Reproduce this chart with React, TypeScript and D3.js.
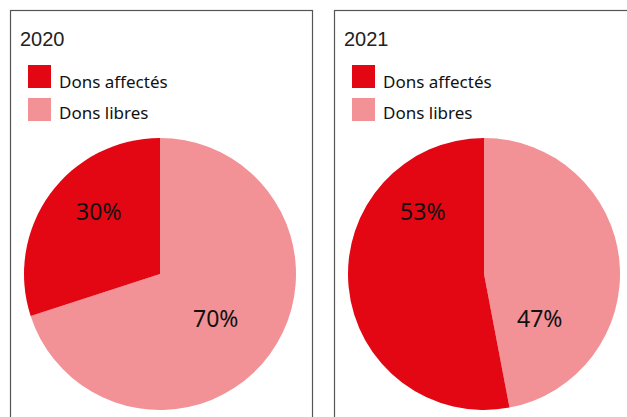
import React from "react";
import * as d3 from "d3";

const years = ["2020", "2021"];
const categories = ["Dons affectés", "Dons libres"];
const affectes = [30, 53];
const libres = [70, 47];
const colors = ["#e30613", "#f29196"];

const W = 627;
const H = 417;

const Panel = ({ i, x }: { i: number; x: number }) => {
  const cx = x + 150;
  const cy = 274;
  const r = 136;
  // libres first, clockwise from 12 o'clock, then affectés
  const slices = d3.pie<number>().sort(null)([libres[i], affectes[i]]);
  const arc = d3.arc<d3.PieArcDatum<number>>().innerRadius(0).outerRadius(r);
  const pct = d3.format(".0f");
  return (
    <g>
      <rect x={x + 0.5} y={10.5} width={x > 100 ? 400 : 302} height={440} fill="none" stroke="#555" strokeWidth={1.2} />
      <text x={x + 10} y={46} fontFamily="Liberation Sans, Arial, sans-serif" fontSize={20} fill="#222">
        {years[i]}
      </text>
      {categories.map((c, k) => (
        <g key={c}>
          <rect x={x + 18} y={65 + k * 33} width={23} height={23} fill={colors[k]} />
          <text x={x + 49} y={88 + k * 31} fontFamily="Noto Sans, sans-serif" fontSize={17} fill="#111">
            {c}
          </text>
        </g>
      ))}
      <g transform={`translate(${cx},${cy})`}>
        {slices.map((s, k) => (
          <path key={k} d={arc(s) || ""} fill={colors[1 - k]} />
        ))}
        <text x={-0.45 * r} y={-0.4 * r} textAnchor="middle" fontFamily="Noto Sans, sans-serif" fontSize={23} fill="#111">
          {pct(affectes[i])}%
        </text>
        <text x={0.41 * r} y={0.39 * r} textAnchor="middle" fontFamily="Noto Sans, sans-serif" fontSize={23} fill="#111">
          {pct(libres[i])}%
        </text>
      </g>
    </g>
  );
};

export default function App() {
  return (
    <svg width={W} height={H} style={{ position: "absolute", left: 0, top: 0, background: "#fff" }}>
      <Panel i={0} x={10} />
      <Panel i={1} x={334} />
    </svg>
  );
}
